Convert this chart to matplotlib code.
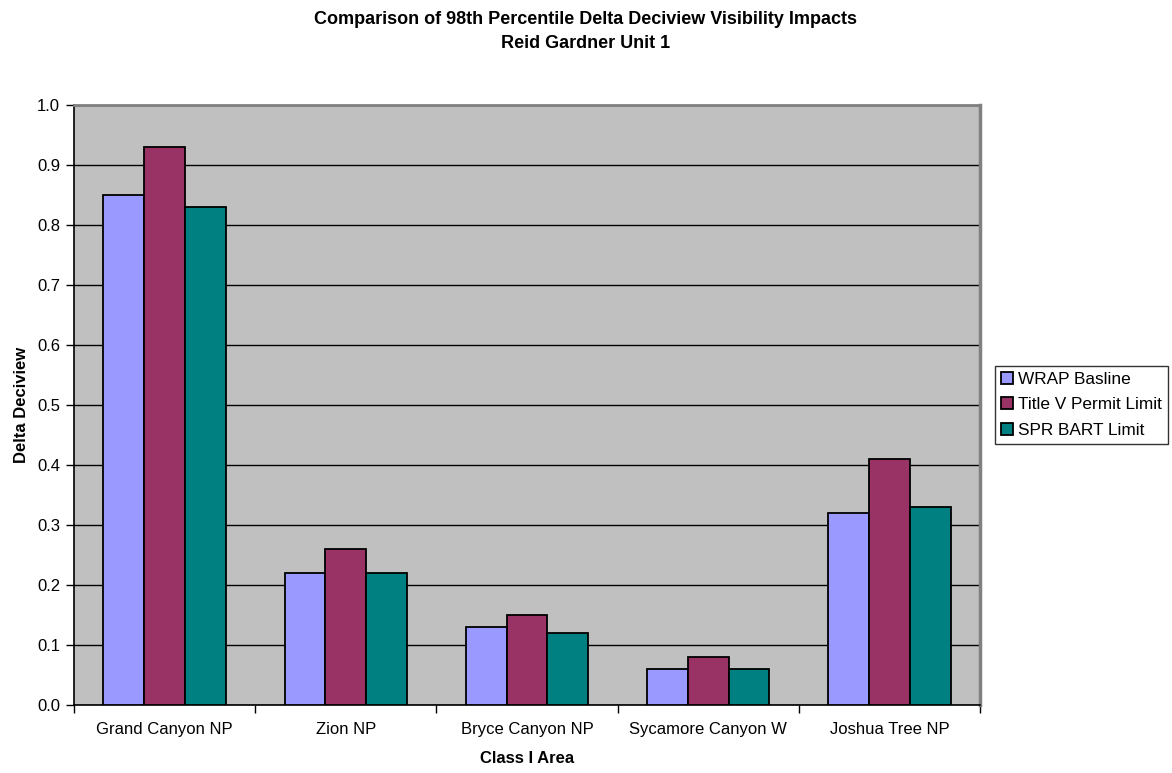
import matplotlib
matplotlib.use('Agg')
import matplotlib.pyplot as plt
import numpy as np

plt.rcParams['font.family'] = ['Liberation Sans', 'DejaVu Sans']

# Class I areas and 98th percentile delta deciview per scenario
areas = ['Grand Canyon NP', 'Zion NP', 'Bryce Canyon NP', 'Sycamore Canyon W', 'Joshua Tree NP']
wrap_baseline = [0.85, 0.22, 0.13, 0.06, 0.32]
title_v_limit = [0.93, 0.26, 0.15, 0.08, 0.41]
spr_bart_limit = [0.83, 0.22, 0.12, 0.06, 0.33]
series_names = ['WRAP Basline', 'Title V Permit Limit', 'SPR BART Limit']
series_colors = ['#9999FF', '#993366', '#008080']
yticks = np.arange(0, 1.01, 0.1)

fig = plt.figure(figsize=(11.72, 7.73), dpi=100)
ax = fig.add_axes([74/1172, 1 - 705/773, 906/1172, 600/773])
ax.set_facecolor('#C0C0C0')

x = np.arange(len(areas))
width = 0.225
for i, (vals, name, col) in enumerate(zip([wrap_baseline, title_v_limit, spr_bart_limit],
                                           series_names, series_colors)):
    ax.bar(x + (i - 1) * width, vals, width, color=col, edgecolor='black',
           linewidth=1.3, label=name, zorder=3)

ax.set_xlim(-0.5, len(areas) - 0.5)
ax.set_ylim(0, 1.0)
ax.set_yticks(yticks)
ax.set_yticklabels([f'{v:.1f}' for v in yticks], fontsize=12)
ax.yaxis.grid(True, color='black', linewidth=1.0, zorder=1)
ax.set_axisbelow(True)

# category labels centred, ticks between categories
ax.set_xticks(np.arange(-0.5, len(areas)), minor=False)
ax.set_xticklabels([])
ax.set_xticks(x, minor=True)
ax.set_xticklabels(areas, minor=True, fontsize=12)
ax.tick_params(axis='x', which='minor', length=0, pad=12)
ax.tick_params(axis='x', which='major', length=6, width=1, direction='out')
ax.tick_params(axis='y', length=6, width=1, direction='out', pad=4)

for s in ['left', 'bottom']:
    ax.spines[s].set_color('black')
    ax.spines[s].set_linewidth(1.2)
ax.spines['top'].set_color('#808080')
ax.spines['top'].set_linewidth(2.0)
ax.spines['right'].set_color('#808080')
ax.spines['right'].set_linewidth(2.5)

ax.set_xlabel('Class I Area', fontsize=12, fontweight='bold', labelpad=10)
ax.set_ylabel('Delta Deciview', fontsize=12, fontweight='bold', labelpad=6)

fig.text(0.5, 1 - 20/773, 'Comparison of 98th Percentile Delta Deciview Visibility Impacts',
         ha='center', va='center', fontsize=13, fontweight='bold')
fig.text(0.5, 1 - 44/773, 'Reid Gardner Unit 1',
         ha='center', va='center', fontsize=13, fontweight='bold')

leg = fig.legend(loc='upper left', bbox_to_anchor=(995/1172, 1 - 366/773),
                 fontsize=12.4, frameon=True, fancybox=False, edgecolor='black',
                 handlelength=0.7, handleheight=0.7, handletextpad=0.3,
                 labelspacing=0.6, borderpad=0.35, borderaxespad=0)
leg.get_frame().set_linewidth(1.0)

fig.savefig('out.png', dpi=100)
